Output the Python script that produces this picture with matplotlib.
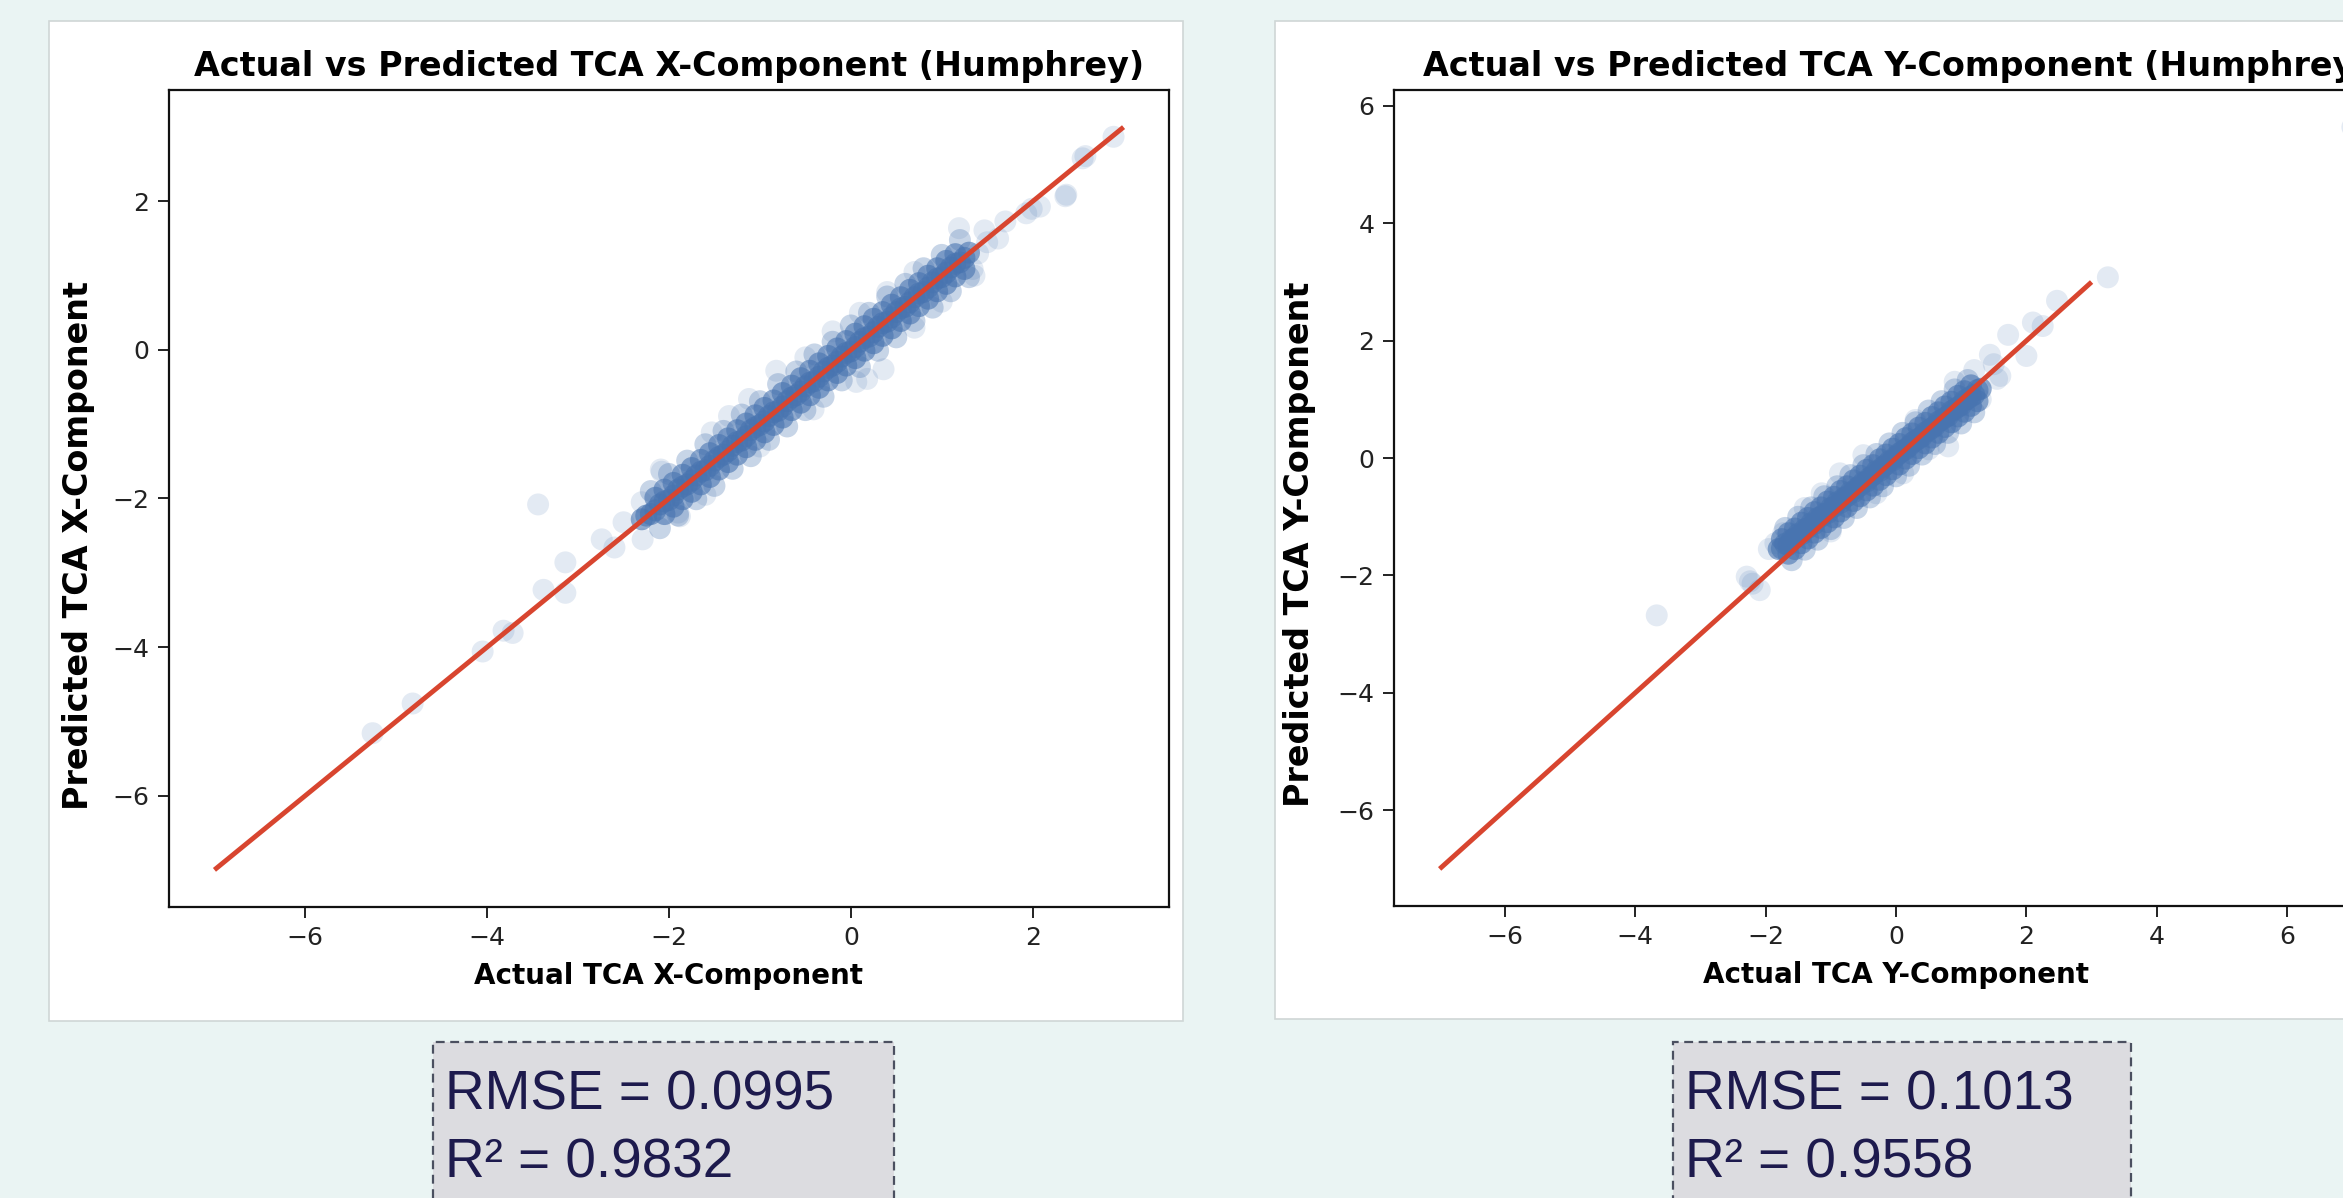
import matplotlib
matplotlib.use("Agg")
import matplotlib.pyplot as plt
from matplotlib.patches import Rectangle
from matplotlib.ticker import MultipleLocator

W, H = 2343, 1198

# --- left panel (X component): dense core of the cloud ---
LEFT_CORE_X = [-2.3, -2.2, -2.1, -2.0, -1.9, -1.8, -1.7, -1.6, -1.5, -1.4, -1.3, -1.2,
               -1.1, -1.0, -0.9, -0.8, -0.7, -0.6, -0.5, -0.4, -0.3, -0.2, -0.1, 0.0,
               0.1, 0.2, 0.3, 0.4, 0.5, 0.6, 0.7, 0.8, 0.9, 1.0, 1.1, 1.2, 1.3,
               -2.25, -2.15, -2.05, -1.95, -1.85, -1.75, -1.65, -1.55, -1.45, -1.35, -1.25,
               -1.15, -1.05, -0.95, -0.85, -0.75, -0.65, -0.55, -0.45, -0.35, -0.25, -0.15,
               -0.05, 0.05, 0.15, 0.25, 0.35, 0.45, 0.55, 0.65, 0.75, 0.85, 0.95, 1.05,
               1.15, 1.25,
               -2.15, -2.05, -1.95, -1.85, -1.75, -1.65, -1.55, -1.45, -1.35, -1.25, -1.15,
               -1.05, -0.95, -0.85, -0.75, -0.65, -0.55, -0.45, -0.35, -0.25, -0.15, -0.05,
               0.05, 0.15, 0.25, 0.35, 0.45, 0.55, 0.65, 0.75, 0.85, 0.95, 1.05, 1.15,
               -2.05, -1.95, -1.85, -1.75, -1.65, -1.55, -1.45, -1.35, -1.25, -1.15, -1.05,
               -0.95, -0.85, -0.75, -0.65, -0.55, -0.45, -0.35, -0.25, -0.15, -0.05, 0.05,
               0.15, 0.25, 0.35, 0.45, 0.55, 0.65, 0.75, 0.85, 0.95, 1.05, 1.15, 1.25]
LEFT_CORE_Y = [-2.28, -2.21, -2.08, -2.02, -1.88, -1.81, -1.69, -1.62, -1.49, -1.41, -1.29, -1.22,
               -1.08, -1.01, -0.89, -0.82, -0.69, -0.61, -0.49, -0.42, -0.29, -0.21, -0.09, -0.02,
               0.11, 0.18, 0.31, 0.38, 0.51, 0.58, 0.71, 0.78, 0.91, 0.98, 1.11, 1.18, 1.31,
               -2.23, -2.16, -2.04, -1.96, -1.84, -1.76, -1.64, -1.56, -1.44, -1.36, -1.24,
               -1.16, -1.04, -0.96, -0.84, -0.76, -0.64, -0.56, -0.44, -0.36, -0.24, -0.16,
               -0.04, 0.04, 0.16, 0.24, 0.36, 0.44, 0.56, 0.64, 0.76, 0.84, 0.96, 1.04,
               1.16, 1.24,
               -1.99, -1.88, -1.79, -1.68, -1.59, -1.48, -1.39, -1.28, -1.19, -1.08, -0.99,
               -0.88, -0.78, -0.68, -0.58, -0.48, -0.38, -0.28, -0.18, -0.08, 0.02, 0.12,
               0.22, 0.32, 0.42, 0.51, 0.61, 0.71, 0.81, 0.90, 1.00, 1.10, 1.20, 1.29,
               -2.21, -2.11, -2.01, -1.91, -1.81, -1.71, -1.61, -1.51, -1.41, -1.31, -1.21,
               -1.11, -1.01, -0.91, -0.81, -0.71, -0.61, -0.51, -0.41, -0.31, -0.21, -0.11,
               -0.01, 0.09, 0.19, 0.29, 0.39, 0.49, 0.59, 0.69, 0.79, 0.89, 0.99, 1.09]

# softer rows on both sides of the core
LEFT_MID_X = [-2.2, -2.0, -1.8, -1.6, -1.4, -1.2, -1.0, -0.8, -0.6, -0.4, -0.2, 0.0, 0.2, 0.4,
              0.6, 0.8, 1.0, 1.2,
              -2.1, -1.9, -1.7, -1.5, -1.3, -1.1, -0.9, -0.7, -0.5, -0.3, -0.1, 0.1, 0.3, 0.5,
              0.7, 0.9, 1.1, 1.3]
LEFT_MID_Y = [-1.90, -1.67, -1.49, -1.27, -1.09, -0.87, -0.69, -0.46, -0.29, -0.06, 0.11, 0.33,
              0.50, 0.72, 0.89, 1.10, 1.28, 1.48,
              -2.40, -2.23, -2.01, -1.83, -1.60, -1.43, -1.21, -1.03, -0.81, -0.63, -0.41,
              -0.23, -0.01, 0.17, 0.39, 0.57, 0.79, 0.98]

# faint edge points, tails and outliers
LEFT_SPARSE_X = [-5.26, -4.82, -4.05, -3.82, -3.72, -3.44, -3.38, -3.14, -3.14, -2.74, -2.6,
                 -2.5, -2.3, -2.08, -1.9, -2.29, -1.88, -2.09, -1.53, -1.34, -1.12, -0.82,
                 -0.5, -0.2, 0.1, 0.4, 0.7, 1.19, 1.36, 0.36, 0.18, 0.06, -0.41, -1.0, -1.6,
                 0.7, 1.0, 1.34, 1.47, 1.62, 1.7, 1.93, 2.08, 1.99, 2.36, 2.37, 2.55, 2.58,
                 2.89, 1.5, 1.4]
LEFT_SPARSE_Y = [-5.16, -4.76, -4.06, -3.78, -3.81, -2.08, -3.23, -2.86, -3.27, -2.55, -2.66,
                 -2.32, -2.05, -1.64, -2.19, -2.55, -2.24, -1.61, -1.11, -0.89, -0.66, -0.28,
                 -0.1, 0.25, 0.5, 0.78, 1.05, 1.64, 1.0, -0.26, -0.39, -0.43, -0.8, -1.3, -1.95,
                 0.3, 0.65, 1.09, 1.61, 1.5, 1.73, 1.84, 1.93, 1.9, 2.07, 2.09, 2.58, 2.61,
                 2.87, 1.45, 1.3]

# --- right panel (Y component) ---
RIGHT_CORE_X = [-1.8, -1.7, -1.6, -1.5, -1.4, -1.3, -1.2, -1.1, -1.0, -0.9, -0.8, -0.7,
                -0.6, -0.5, -0.4, -0.3, -0.2, -0.1, 0.0, 0.1, 0.2, 0.3, 0.4, 0.5, 0.6,
                0.7, 0.8, 0.9, 1.0, 1.1, 1.2, 1.3,
                -1.75, -1.65, -1.55, -1.45, -1.35, -1.25, -1.15, -1.05, -0.95, -0.85, -0.75,
                -0.65, -0.55, -0.45, -0.35, -0.25, -0.15, -0.05, 0.05, 0.15, 0.25, 0.35,
                0.45, 0.55, 0.65, 0.75, 0.85, 0.95, 1.05, 1.15, 1.25,
                -1.75, -1.65, -1.55, -1.45, -1.35, -1.25, -1.15, -1.05, -0.95, -0.85, -0.75,
                -0.65, -0.55, -0.45, -0.35, -0.25, -0.15, -0.05, 0.05, 0.15, 0.25, 0.35,
                0.45, 0.55, 0.65, 0.75, 0.85, 0.95, 1.05, 1.15,
                -1.65, -1.55, -1.45, -1.35, -1.25, -1.15, -1.05, -0.95, -0.85, -0.75, -0.65,
                -0.55, -0.45, -0.35, -0.25, -0.15, -0.05, 0.05, 0.15, 0.25, 0.35, 0.45,
                0.55, 0.65, 0.75, 0.85, 0.95, 1.05, 1.15, 1.25]
RIGHT_CORE_Y = [-1.55, -1.46, -1.39, -1.29, -1.21, -1.11, -1.02, -0.95, -0.85, -0.75, -0.68, -0.58,
                -0.51, -0.41, -0.33, -0.22, -0.15, -0.05, 0.03, 0.12, 0.20, 0.30, 0.37, 0.47,
                0.55, 0.65, 0.72, 0.83, 0.90, 1.01, 1.08, 1.18,
                -1.54, -1.48, -1.36, -1.30, -1.19, -1.12, -1.00, -0.94, -0.83, -0.76, -0.65,
                -0.58, -0.47, -0.40, -0.29, -0.22, -0.11, -0.04, 0.08, 0.15, 0.26, 0.33,
                0.44, 0.51, 0.62, 0.69, 0.80, 0.87, 0.98, 1.05, 1.16,
                -1.38, -1.28, -1.20, -1.10, -1.02, -0.92, -0.84, -0.74, -0.66, -0.56, -0.48,
                -0.38, -0.30, -0.20, -0.12, -0.02, 0.06, 0.16, 0.24, 0.34, 0.42, 0.52,
                0.60, 0.70, 0.78, 0.88, 0.96, 1.06, 1.14, 1.24,
                -1.63, -1.55, -1.45, -1.37, -1.27, -1.19, -1.09, -1.01, -0.91, -0.83, -0.73,
                -0.65, -0.55, -0.47, -0.37, -0.29, -0.19, -0.11, -0.01, 0.07, 0.17, 0.25,
                0.35, 0.43, 0.53, 0.61, 0.71, 0.79, 0.89, 0.97]

RIGHT_MID_X = [-1.7, -1.5, -1.3, -1.1, -0.9, -0.7, -0.5, -0.3, -0.1, 0.1, 0.3, 0.5, 0.7, 0.9, 1.1,
               -1.6, -1.4, -1.2, -1.0, -0.8, -0.6, -0.4, -0.2, 0.0, 0.2, 0.4, 0.6, 0.8, 1.0, 1.2]
RIGHT_MID_Y = [-1.19, -1.00, -0.84, -0.65, -0.48, -0.29, -0.12, 0.07, 0.25, 0.43, 0.61, 0.81,
               0.97, 1.17, 1.33,
               -1.74, -1.56, -1.39, -1.21, -1.02, -0.85, -0.67, -0.48, -0.31, -0.13, 0.06, 0.24,
               0.43, 0.59, 0.78]

RIGHT_SPARSE_X = [-3.67, -2.24, -2.09, -2.29, -2.2, -1.73, -1.95, -1.85, -1.14, -0.86, 0.11,
                  0.8, 1.44, 1.6, 1.72, 2.0, 2.1, 2.47, 3.25, 7.0, -1.4, -0.5, 0.3, 0.9,
                  1.2, -1.0, -0.3, 0.5, 1.3, 1.5, 1.55, 2.25]
RIGHT_SPARSE_Y = [-2.68, -2.1, -2.25, -2.02, -2.14, -1.28, -1.55, -1.45, -0.6, -0.26, -0.26,
                  0.2, 1.76, 1.4, 2.1, 1.74, 2.31, 2.68, 3.08, 5.64, -0.85, 0.05, 0.65, 1.3,
                  1.5, -1.25, -0.6, 0.15, 1.0, 1.6, 1.35, 2.25]

# perfect-prediction reference line
LINE_X = [-7, 3]
LINE_Y = [-7, 3]

TITLES = ["Actual vs Predicted TCA X-Component (Humphrey)",
          "Actual vs Predicted TCA Y-Component (Humphrey)"]
XLABELS = ["Actual TCA X-Component", "Actual TCA Y-Component"]
YLABELS = ["Predicted TCA X-Component", "Predicted TCA Y-Component"]
RMSE = ["0.0995", "0.1013"]
R2 = ["0.9832", "0.9558"]

BLUE = "#4874b0"
RED = "#d8452f"

fig = plt.figure(figsize=(W / 100, H / 100), dpi=100, facecolor="#eaf4f3")


def px_rect(x0, y0, x1, y1, **kw):
    # rectangle given in figure pixels, top-left origin
    r = Rectangle((x0 / W, 1 - y1 / H), (x1 - x0) / W, (y1 - y0) / H,
                  transform=fig.transFigure, **kw)
    fig.patches.append(r)


# white card behind each plot
px_rect(49, 21, 1183, 1021, facecolor="white", edgecolor="#cfd6d6", lw=1.2, zorder=-2)
px_rect(1275, 21, 2360, 1019, facecolor="white", edgecolor="#cfd6d6", lw=1.2, zorder=-2)

ax1 = fig.add_axes([169 / W, 1 - 907 / H, 1000 / W, 817 / H], zorder=2)
ax2 = fig.add_axes([1394 / W, 1 - 906 / H, 1004 / W, 816 / H], zorder=2)

panels = [(ax1, LEFT_CORE_X, LEFT_CORE_Y, LEFT_MID_X, LEFT_MID_Y, LEFT_SPARSE_X, LEFT_SPARSE_Y),
          (ax2, RIGHT_CORE_X, RIGHT_CORE_Y, RIGHT_MID_X, RIGHT_MID_Y, RIGHT_SPARSE_X, RIGHT_SPARSE_Y)]
ylabel_x = [-0.074, -0.078]

for i, (ax, cx, cy, mx, my, sx, sy) in enumerate(panels):
    ax.scatter(sx, sy, s=250, color=BLUE, alpha=0.15, edgecolors="none")
    ax.scatter(mx, my, s=250, color=BLUE, alpha=0.3, edgecolors="none")
    ax.scatter(cx, cy, s=250, color=BLUE, alpha=0.6, edgecolors="none")
    ax.plot(LINE_X, LINE_Y, color=RED, lw=3.5, solid_capstyle="butt")
    ax.xaxis.set_major_locator(MultipleLocator(2))
    ax.yaxis.set_major_locator(MultipleLocator(2))
    ax.set_title(TITLES[i], fontsize=24, fontweight="bold", pad=10)
    ax.set_xlabel(XLABELS[i], fontsize=20, fontweight="bold", labelpad=8)
    ax.set_ylabel(YLABELS[i], fontsize=24, fontweight="bold")
    ax.yaxis.set_label_coords(ylabel_x[i], 0.443)
    ax.tick_params(labelsize=18, length=8, width=1.4, colors="#222222", pad=6)
    for sp in ax.spines.values():
        sp.set_linewidth(1.6)
        sp.set_color("#111111")

# metric boxes under each plot
for x0, x1, i in [(433, 894, 0), (1673, 2131, 1)]:
    px_rect(x0, 1042, x1, 1215, facecolor="#dcdce0", edgecolor="#4b5060",
            lw=1.6, ls=(0, (4, 2.5)), zorder=1)
    fig.text((x0 + 12) / W, 1 - 1109 / H, "RMSE = " + RMSE[i], fontsize=39.5,
             family="Liberation Sans", color="#1d1a4d", va="baseline", zorder=3)
    fig.text((x0 + 12) / W, 1 - 1177 / H, "R\u00b2 = " + R2[i], fontsize=39.5,
             family="Liberation Sans", color="#1d1a4d", va="baseline", zorder=3)

fig.savefig("out.png", dpi=100, facecolor=fig.get_facecolor())
